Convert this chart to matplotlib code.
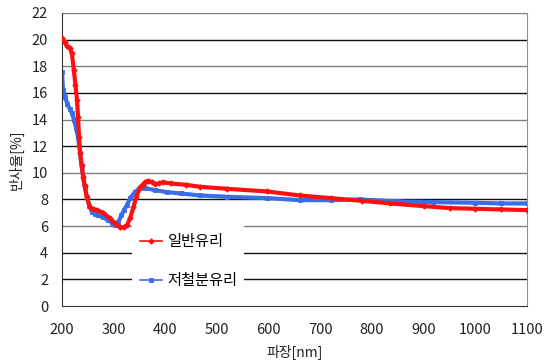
import matplotlib
matplotlib.use("Agg")
import matplotlib.pyplot as plt
from matplotlib.patches import Rectangle

plt.rcParams['font.family'] = ['Noto Sans CJK KR', 'DejaVu Sans']

# reflectance spectra, wavelength in nm, reflectance in %
wl_normal = [200, 205, 210, 215, 219, 223, 226, 229, 231, 233, 235, 238, 241, 244,
             248, 254, 260, 268, 280, 292, 303, 312, 320, 326, 332, 338, 344, 351,
             356, 361, 367, 374, 380, 388, 395, 410, 440, 467, 520, 597, 660, 720,
             780, 835, 900, 951, 1000, 1050, 1100]
r_normal = [20.1, 19.8, 19.5, 19.35, 19.0, 17.7, 16.6, 15.5, 14.2, 12.7, 11.5, 10.6,
            9.7, 9.0, 8.2, 7.4, 7.3, 7.2, 7.0, 6.6, 6.2, 5.9, 5.9, 6.1, 6.6, 7.4,
            8.2, 8.9, 9.1, 9.3, 9.4, 9.3, 9.15, 9.2, 9.3, 9.2, 9.1, 8.95, 8.8, 8.6,
            8.3, 8.1, 7.9, 7.7, 7.5, 7.35, 7.3, 7.25, 7.2]

wl_low_iron = [200, 202, 206, 210, 215, 219, 223, 227, 231, 235, 238, 241, 244, 248,
               253, 258, 264, 270, 280, 289, 297, 303, 309, 315, 320, 326, 332, 341,
               351, 361, 380, 403, 430, 467, 520, 597, 660, 720, 777, 850, 918, 1000,
               1050, 1100]
r_low_iron = [17.55, 16.2, 15.7, 15.2, 14.8, 14.5, 14.0, 13.4, 12.7, 11.5, 10.5, 9.7,
              9.0, 8.2, 7.5, 7.05, 6.9, 6.8, 6.65, 6.45, 6.25, 6.1, 6.3, 6.8, 7.2,
              7.6, 8.1, 8.55, 8.85, 8.85, 8.7, 8.55, 8.45, 8.3, 8.2, 8.1, 7.95, 7.95,
              8.0, 7.85, 7.8, 7.75, 7.7, 7.7]

labels = ['일반유리', '저철분유리']
x_ticks = list(range(200, 1101, 100))
y_ticks = list(range(0, 23, 2))

fig = plt.figure(figsize=(5.44, 3.6), dpi=100)
ax = fig.add_axes([62 / 544, 54 / 360, 465 / 544, 293 / 360])

# Excel-style gridlines, alternating dark and grey
grid_colors = {2: '#111111', 4: '#111111', 6: '#808080', 8: '#111111', 10: '#808080',
               12: '#111111', 14: '#808080', 16: '#111111', 18: '#808080',
               20: '#111111', 22: '#808080'}
for v in y_ticks[1:]:
    ax.axhline(v, color=grid_colors[v], lw=1.0, zorder=0)

# white area behind the legend, hides the gridlines there
ax.add_patch(Rectangle((335, 1.3), 217, 5.0, facecolor='white', edgecolor='none',
                       zorder=1))

red = '#ff1010'
blue = '#3a6ee8'
ax.plot(wl_normal, r_normal, color=red, lw=3.0, marker='D', ms=2.8,
        mfc=red, mec=red, mew=0.6, label=labels[0], zorder=3)
ax.plot(wl_low_iron, r_low_iron, color=blue, lw=3.0, marker='s', ms=2.8,
        mfc=blue, mec=blue, mew=0.6, label=labels[1], zorder=2)

ax.set_xlim(200, 1100)
ax.set_ylim(0, 22)
ax.set_xticks(x_ticks)
ax.set_yticks(y_ticks)
ax.tick_params(length=0, labelsize=10.5, colors='#222222')
ax.tick_params(axis='y', pad=10)
ax.tick_params(axis='x', pad=12)

ax.spines['top'].set_visible(False)
ax.spines['right'].set_color('#909090')
ax.spines['left'].set_color('#333333')
ax.spines['bottom'].set_color('#333333')

ax.set_xlabel('파장[nm]', fontsize=10, color='#222222', labelpad=6)
ax.set_ylabel('반사율[%]', fontsize=10, color='#222222', labelpad=6)

leg = ax.legend(loc='upper left', bbox_to_anchor=(140 / 544, 1 - 233 / 360),
                bbox_transform=fig.transFigure, frameon=False, fontsize=11,
                handlelength=1.45, labelspacing=1.45, borderpad=0,
                handletextpad=0.35, borderaxespad=0)
for line in leg.get_lines():
    line.set_linewidth(1.2)

fig.savefig('out.png', dpi=100)
